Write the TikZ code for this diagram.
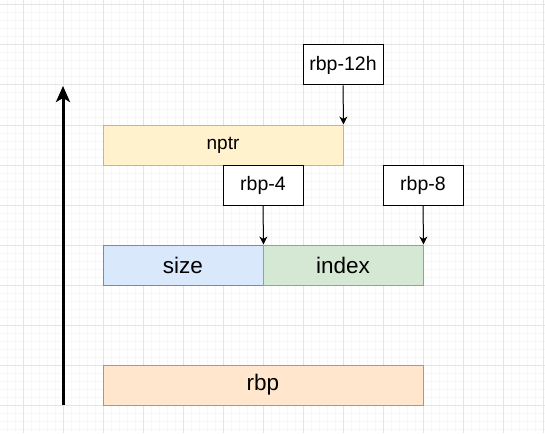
\documentclass[tikz,border=0pt]{standalone}
\usepackage{fontspec}
\setmainfont{Liberation Sans}
\usetikzlibrary{arrows.meta}
\definecolor{gridmajor}{HTML}{E4E4E4}
\definecolor{gridminor}{HTML}{F7F7F7}
\definecolor{ylwfill}{HTML}{FFF2CC}
\definecolor{ylwline}{HTML}{D6B656}
\definecolor{blufill}{HTML}{DAE8FC}
\definecolor{bluline}{HTML}{6C8EBF}
\definecolor{grnfill}{HTML}{D5E8D4}
\definecolor{grnline}{HTML}{82B366}
\definecolor{orgfill}{HTML}{FFE6CC}
\definecolor{orgline}{HTML}{D79B00}

\begin{document}
\begin{tikzpicture}[x=1pt, y=-1pt, line width=1pt,
          cell/.style={minimum height=40pt, inner sep=0pt, font=\fontsize{22.5}{26}\selectfont},
          addr/.style={draw=black, fill=white, minimum width=80pt, minimum height=40pt, inner sep=0pt,
                       font=\fontsize{19.5}{22}\selectfont},
          ptr/.style={-{Stealth[length=8pt, width=8pt, inset=2.5pt]}, black}]
          \useasboundingbox (0,0) rectangle (545,433);
          % grid
          \foreach \x in {7,15,...,543} \draw[gridminor] (\x,0) -- (\x,433);
          \foreach \y in {5,13,...,429} \draw[gridminor] (0,\y) -- (545,\y);
          \foreach \x in {23,63,...,543} \draw[gridmajor] (\x,0) -- (\x,433);
          \foreach \y in {5,45,...,405} \draw[gridmajor] (0,\y) -- (545,\y);
          % stack cells
          \node[cell, draw=ylwline, fill=ylwfill, minimum width=240pt, font=\fontsize{19}{22}\selectfont] (nptr) at (223,145) {nptr};
          \node[cell, draw=bluline, fill=blufill, minimum width=160pt] (size) at (183,265) {size};
          \node[cell, draw=grnline, fill=grnfill, minimum width=160pt] (index) at (343,265) {index};
          \node[cell, draw=orgline, fill=orgfill, minimum width=320pt] (rbp) at (263,385) {rbp};
          % offsets
          \node[addr] (rbp12h) at (343,65) {rbp-12h};
          \node[addr] (rbp4) at (263,185) {rbp-4};
          \node[addr] (rbp8) at (423,185) {rbp-8};
          \draw[ptr] (rbp12h.south) -- (nptr.north east);
          \draw[ptr] (rbp4.south) -- (size.north east);
          \draw[ptr] (rbp8.south) -- (index.north east);
          % growth direction
          \coordinate (upfoot) at (63,405);
          \coordinate (uphead) at (63,86);
          \draw[line width=3pt, -{Stealth[length=16pt, width=14pt, inset=4pt]}] (upfoot) -- (uphead);
        \end{tikzpicture}
\end{document}
